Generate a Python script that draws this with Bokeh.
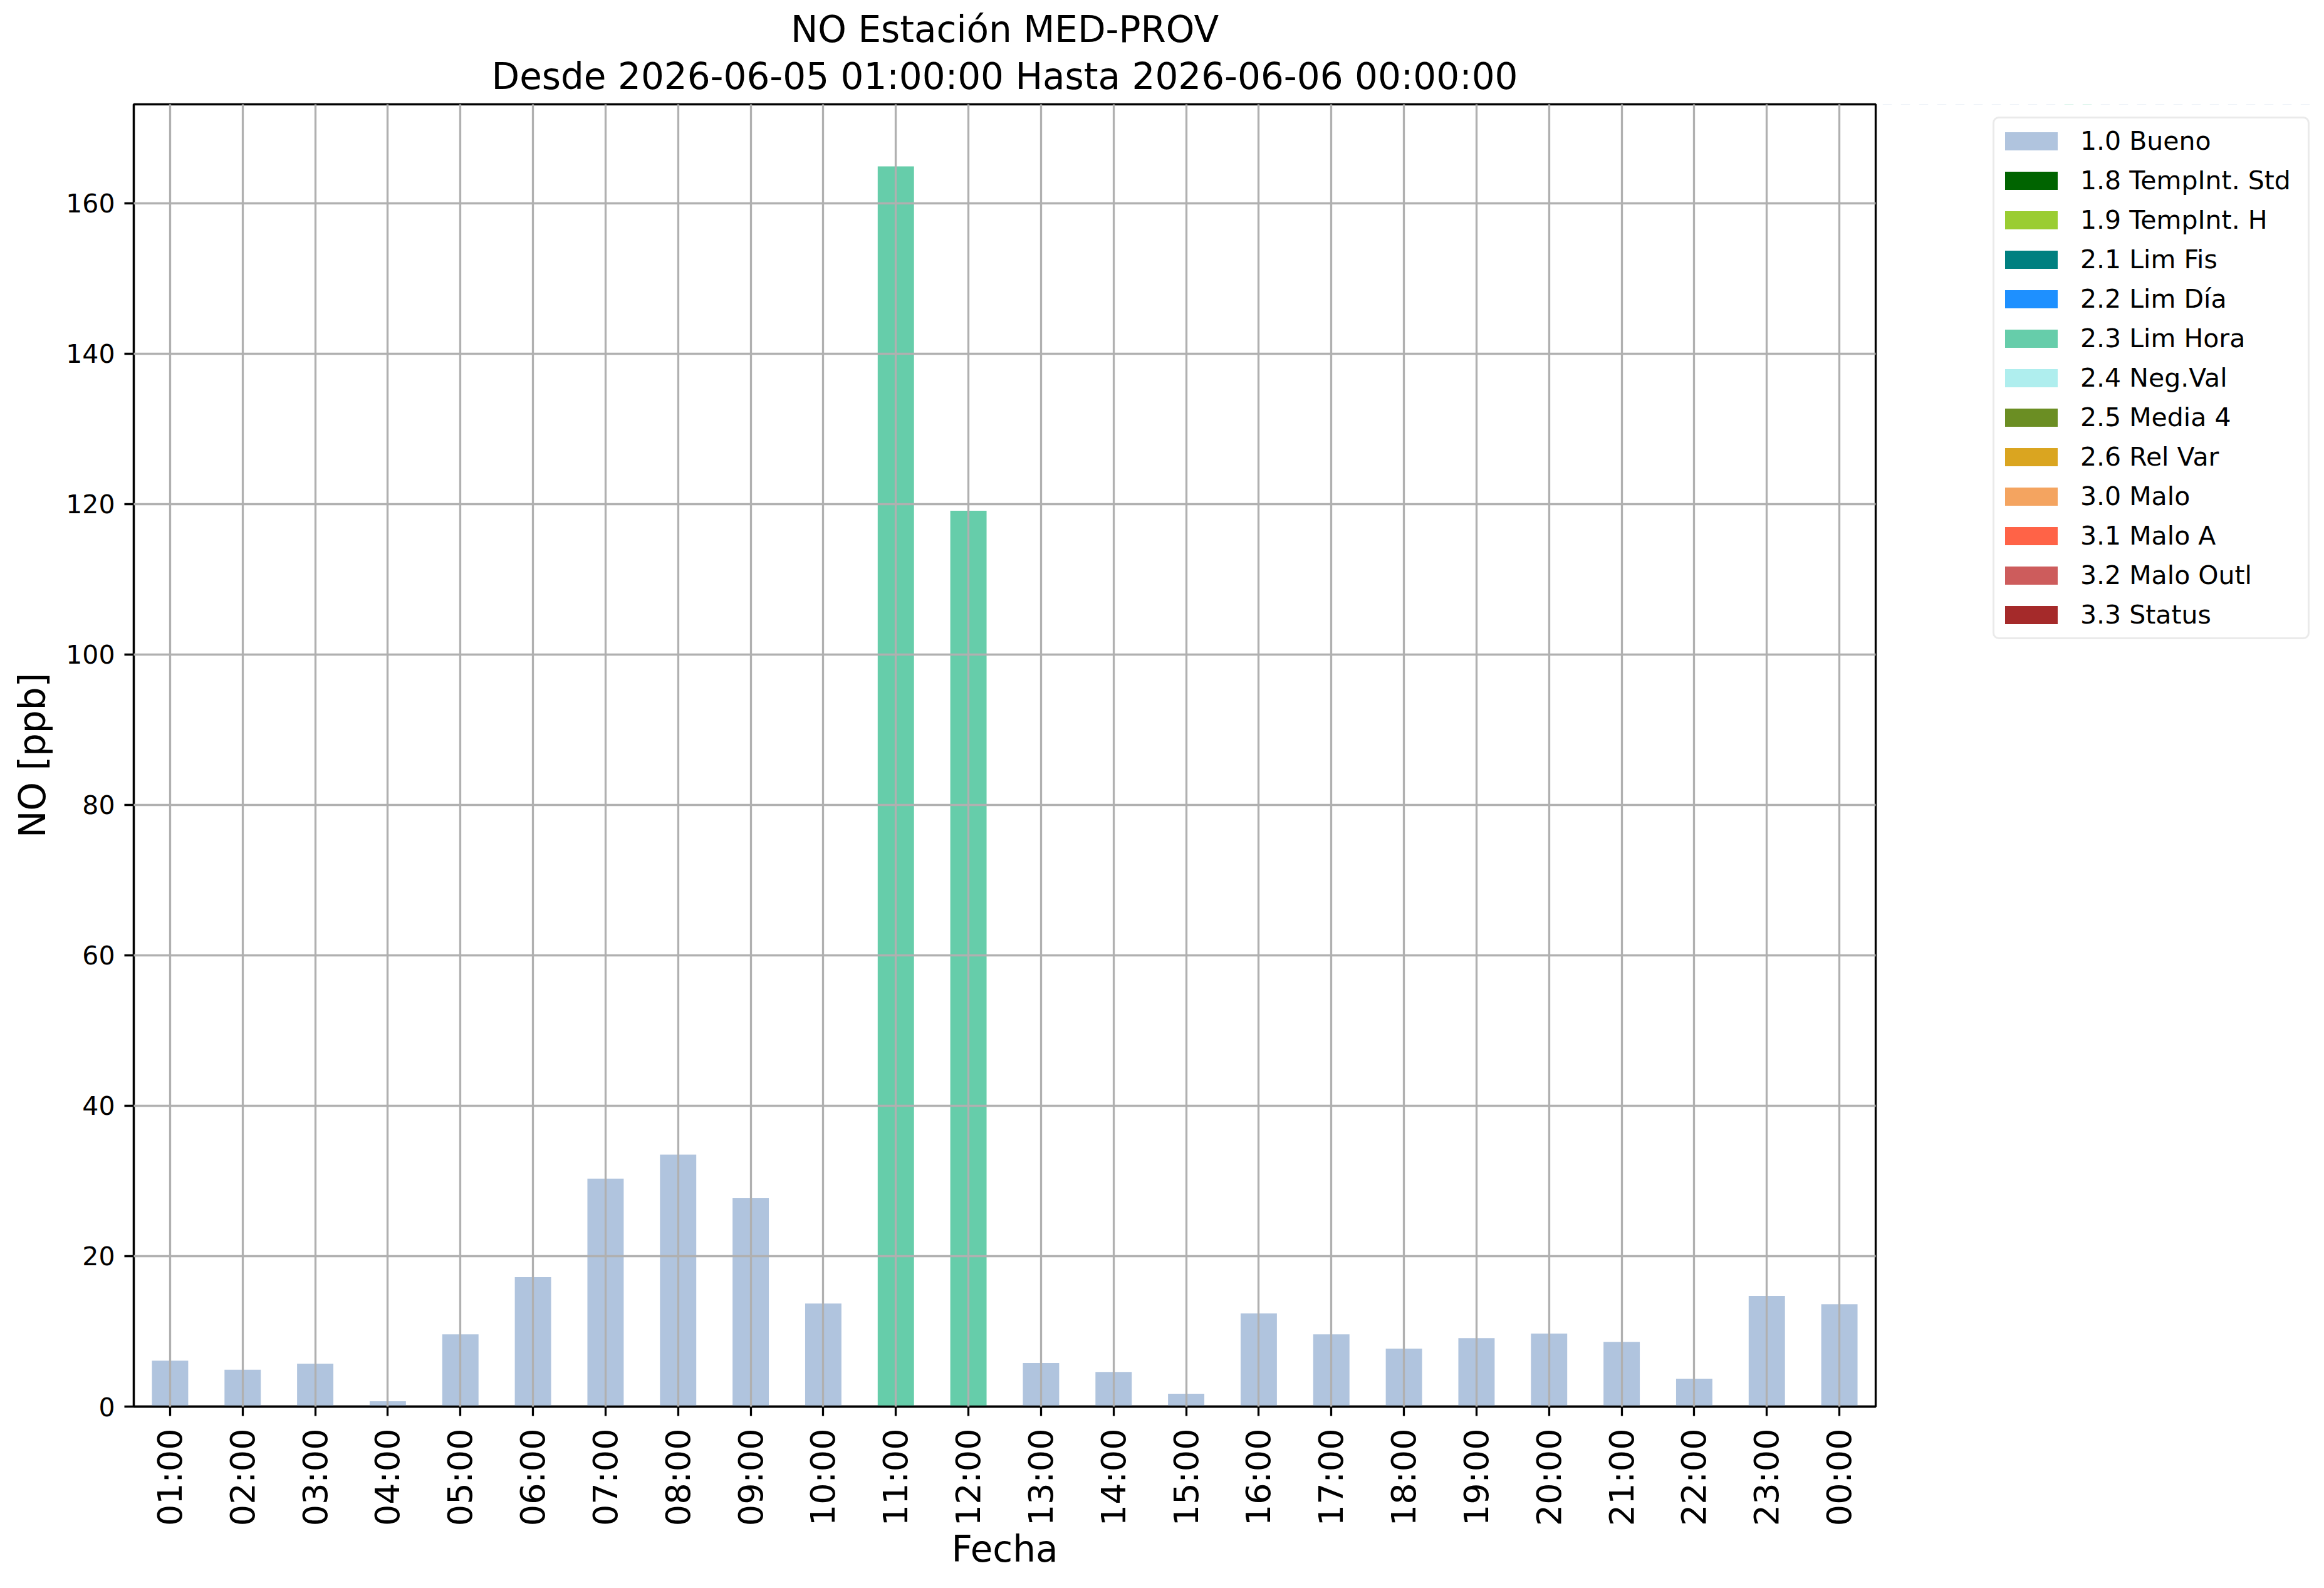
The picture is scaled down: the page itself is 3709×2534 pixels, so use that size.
import math
from bokeh.plotting import figure
from bokeh.layouts import row
from bokeh.models import FactorRange, Range1d, Legend, LegendItem, ColumnDataSource, SingleIntervalTicker, Title
from bokeh.embed import file_html
from bokeh.resources import INLINE

# ---- data ----
hours = ["01:00", "02:00", "03:00", "04:00", "05:00", "06:00", "07:00", "08:00",
         "09:00", "10:00", "11:00", "12:00", "13:00", "14:00", "15:00", "16:00",
         "17:00", "18:00", "19:00", "20:00", "21:00", "22:00", "23:00", "00:00"]
no_values = [6.1, 4.9, 5.7, 0.7, 9.6, 17.2, 30.3, 33.5, 27.7, 13.7, 164.9, 119.1,
             5.8, 4.6, 1.7, 12.4, 9.6, 7.7, 9.1, 9.7, 8.6, 3.7, 14.7, 13.6]
flags = ["1.0 Bueno"] * 10 + ["2.3 Lim Hora"] * 2 + ["1.0 Bueno"] * 12

categories = ["1.0 Bueno", "1.8 TempInt. Std", "1.9 TempInt. H", "2.1 Lim Fis",
              "2.2 Lim Día", "2.3 Lim Hora", "2.4 Neg.Val", "2.5 Media 4",
              "2.6 Rel Var", "3.0 Malo", "3.1 Malo A", "3.2 Malo Outl", "3.3 Status"]
cat_colors = ["#B0C4DE", "#006400", "#9ACD32", "#008080", "#1E90FF", "#66CDAA",
              "#AFEEEE", "#6B8E23", "#DAA520", "#F4A460", "#FF6347", "#CD5C5C", "#A52A2A"]

title_lines = ["NO Estación MED-PROV", "Desde 2026-06-05 01:00:00 Hasta 2026-06-06 00:00:00"]
y_label = "NO [ppb]"
x_label = "Fecha"

FONT = "DejaVu Sans"

ymax = max(no_values) * 1.05

TOTAL_W, TOTAL_H = 3693, 2518
MAIN_W = 2997
LEG_W = TOTAL_W - MAIN_W

# ---------------- main chart ----------------
p = figure(width=MAIN_W, height=TOTAL_H,
           x_range=FactorRange(*hours), y_range=Range1d(0, ymax),
           output_backend="svg", toolbar_location=None,
           min_border_left=213, min_border_right=4,
           min_border_top=166, min_border_bottom=274)

p.background_fill_color = "white"
p.border_fill_color = "white"
p.outline_line_color = "black"
p.outline_line_width = 3.3

# title: first line on top (p.title), second line nearest the frame
p.title.text = title_lines[0]
p.title.align = "center"
p.title.text_font = FONT
p.title.text_font_size = "58px"
p.title.text_font_style = "normal"
p.title.text_color = "black"
p.title.offset = 0
try:
    p.title.standoff = -10
except Exception:
    p.title.standoff = 0
t2 = Title(text=title_lines[1], align="center", text_font=FONT, text_font_size="58px",
           text_font_style="normal", text_color="black", standoff=21)
p.add_layout(t2, "above")

sources = []
for cat, col in zip(categories, cat_colors):
    tops = [v if f == cat else float("nan") for v, f in zip(no_values, flags)]
    src = ColumnDataSource(dict(x=hours, top=tops))
    sources.append(src)
    p.vbar(x="x", top="top", width=0.5, bottom=0, source=src,
           fill_color=col, line_color=None)

for g in (p.xgrid, p.ygrid):
    g.grid_line_color = "#b0b0b0"
    g.grid_line_width = 3.3
    g.level = "annotation"

p.yaxis.ticker = SingleIntervalTicker(interval=20, num_minor_ticks=0)

for ax in (p.xaxis, p.yaxis):
    ax.axis_line_color = "black"
    ax.axis_line_width = 3.3
    ax.major_tick_line_color = "black"
    ax.major_tick_line_width = 3.3
    ax.major_tick_in = 0
    ax.major_tick_out = 15
    ax.minor_tick_line_color = None
    ax.major_label_text_font = FONT
    ax.major_label_text_color = "black"
    ax.axis_label_text_font = FONT
    ax.axis_label_text_color = "black"
    ax.axis_label_text_font_style = "normal"
    ax.axis_label_text_font_size = "58px"

p.xaxis.axis_label = x_label
p.xaxis.major_label_orientation = math.pi / 2
p.xaxis.major_label_text_font_size = "54px"
p.xaxis.major_label_standoff = 20
p.xaxis.axis_label_standoff = 0

p.yaxis.axis_label = y_label
p.yaxis.major_label_text_font_size = "41px"
p.yaxis.major_label_standoff = 15
p.yaxis.axis_label_standoff = 16

# ---------------- legend panel (same series, out-of-view range) ----------------
lp = figure(width=LEG_W, height=TOTAL_H,
            x_range=FactorRange(*hours), y_range=Range1d(-2, -1),
            output_backend="svg", toolbar_location=None,
            x_axis_location=None, y_axis_location=None,
            min_border_left=0, min_border_right=0, min_border_top=0, min_border_bottom=0)
lp.outline_line_color = None
lp.background_fill_color = "white"
lp.border_fill_color = "white"
lp.grid.visible = False

items = []
for cat, col, src in zip(categories, cat_colors, sources):
    r = lp.vbar(x="x", top="top", width=0.5, bottom=0, source=src,
                fill_color=col, line_color=None)
    items.append(LegendItem(label=cat, renderers=[r], index=0))

legend = Legend(items=items, location=(183, 1224))
legend.label_text_font = FONT
legend.label_text_font_size = "41px"
legend.label_text_color = "black"
legend.glyph_width = 105
legend.glyph_height = 36
legend.label_height = 60
legend.label_width = 357
legend.label_standoff = 26
legend.padding = 6
legend.spacing = 3
legend.margin = 0
legend.border_line_color = "#d6d6d6"
legend.border_line_width = 3.5
legend.background_fill_color = "white"
legend.background_fill_alpha = 0.8
if "border_radius" in Legend.properties():
    legend.border_radius = 10
lp.add_layout(legend)

layout = row(p, lp)
open("out.html", "w").write(file_html(layout, INLINE))
